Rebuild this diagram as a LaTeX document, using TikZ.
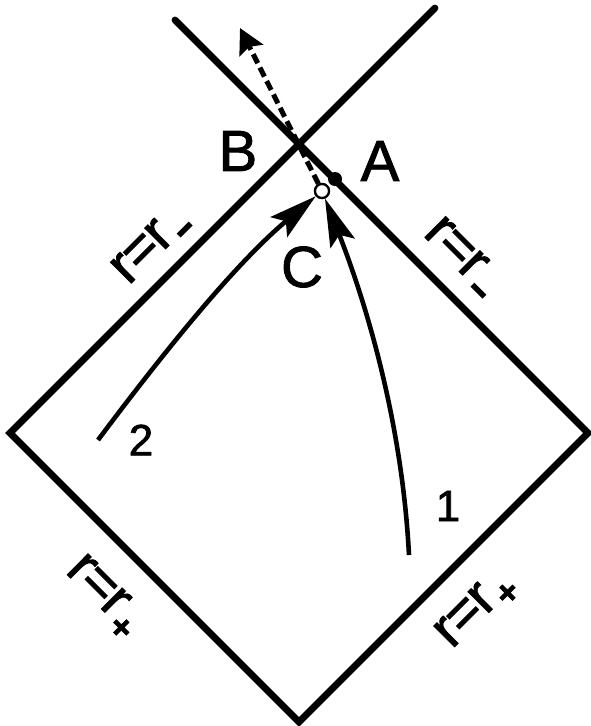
\documentclass[tikz,border=0pt]{standalone}
\usepackage{fontspec}
\setmainfont{Liberation Sans}
\newfontfamily\heavy{Liberation Sans}[FakeBold=1.5]
\usetikzlibrary{arrows.meta}
\newcommand\subminus{\kern4pt\raisebox{-2.5pt}{\rule{17pt}{5.5pt}}}
\newcommand\subplus{\kern2pt\raisebox{-11pt}{\fontsize{36}{36}\selectfont\bfseries +}}
\newcommand\rr{r\kern-1.5pt=\kern-1.5pt r}
\begin{document}
\begin{tikzpicture}[x=1pt,y=-1pt,
  edge/.style={line width=6.8pt,line cap=round,line join=miter},
  worldline/.style={line width=4.6pt,-{Stealth[length=48pt,width=26pt,inset=9pt]}},
  escape/.style={line width=5pt,dash pattern=on 10pt off 5pt,-{Stealth[length=25pt,width=26pt,inset=4pt]}},
  fdot/.style={circle,fill=black,inner sep=0pt,minimum size=14pt},
  odot/.style={circle,draw=black,fill=white,line width=2.2pt,inner sep=0pt,minimum size=14pt},
  big/.style={inner sep=0pt,font=\heavy\fontsize{58}{60}\selectfont},
  num/.style={inner sep=0pt,font=\heavy\fontsize{44}{46}\selectfont},
  lab/.style={inner sep=0pt,font=\heavy\fontsize{56}{58}\selectfont}]
\useasboundingbox (0,0) rectangle (590,726);
\coordinate (L) at (10,433);
\coordinate (R) at (588,433);
\coordinate (Bot) at (299,722);
\coordinate (TL) at (175,20);
\coordinate (TR) at (435,8);
\draw[edge] (TR) -- (L) -- (Bot) -- (R) -- (TL);
\coordinate (S1) at (409,555);
\coordinate (S2) at (98,440);
\coordinate (Dtip) at (240,28);
\node[fdot] (A) at (335,179) {};
\node[odot] (C) at (322,191) {};
\draw[escape] (C) -- (Dtip);
\node[odot] at (C) {};
\draw[worldline] (S1) .. controls (402,420) and (365,300) .. (C);
\draw[worldline] (S2) .. controls (152,368) and (230,268) .. (C);
\node[big] (tB) at (238,151) {B};
\node[big] (tA) at (380,161) {A};
\node[big] (tC) at (302,267) {C};
\node[num] (n1) at (448,506) {1};
\node[num] (n2) at (141,440) {2};
\node[lab,rotate=45] (l1) at (150,245) {\rr\subminus};
\node[lab,rotate=-45] (l2) at (463,256) {\rr\subminus};
\node[lab,rotate=-45] (l3) at (103,597) {\rr\subplus};
\node[lab,rotate=45] (l4) at (477,611) {\rr\subplus};
\end{tikzpicture}
\end{document}
